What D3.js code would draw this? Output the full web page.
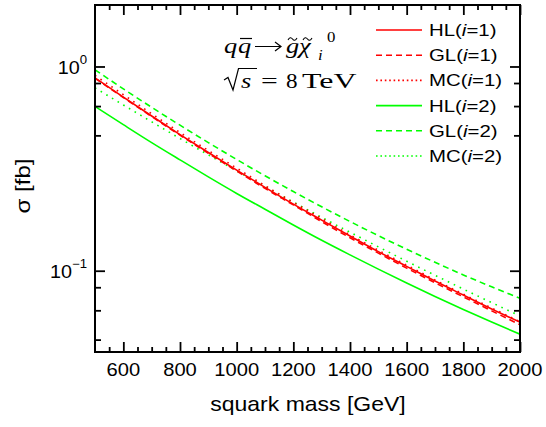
<!DOCTYPE html>
<html><head><meta charset="utf-8">
<script src="https://cdn.jsdelivr.net/npm/d3@7"></script>
<style>body{margin:0;background:#fff}svg{display:block}</style>
</head><body><svg id="c" width="546" height="427"></svg>
<script>
// ---------- data ----------
const masses = [500,600,700,800,900,1000,1100,1200,1300,1400,1500,1600,1700,1800,1900,2000];
const hl1 = [0.880,0.708,0.572,0.464,0.379,0.311,0.256,0.212,0.177,0.148,0.124,0.105,0.089,0.076,0.065,0.056];
const gl1 = [0.875,0.705,0.569,0.461,0.376,0.308,0.253,0.210,0.174,0.145,0.122,0.103,0.0873,0.0745,0.0636,0.0544];
const mc1 = [0.905,0.728,0.587,0.475,0.388,0.318,0.261,0.216,0.180,0.150,0.126,0.1065,0.0902,0.0768,0.0657,0.0563];
const hl2 = [0.637,0.519,0.424,0.349,0.288,0.239,0.200,0.1675,0.141,0.1196,0.1018,0.0870,0.0748,0.0646,0.0561,0.0489];
const gl2 = [0.963,0.777,0.631,0.516,0.424,0.3505,0.2916,0.2441,0.2056,0.1742,0.1485,0.1274,0.1100,0.0954,0.0834,0.0733];
const mc2 = [0.786,0.648,0.536,0.444,0.3695,0.3083,0.2582,0.2169,0.1826,0.1544,0.1309,0.1113,0.0950,0.0813,0.0698,0.0601];

const seriesNames = ["HL","GL","MC","HL","GL","MC"];
const seriesIndex = ["1","1","1","2","2","2"];
const seriesValues = [hl1, gl1, mc1, hl2, gl2, mc2];
const seriesColors = ["#ff0000","#ff0000","#ff0000","#00ff00","#00ff00","#00ff00"];
const seriesStyle = ["solid","dashed","dotted","solid","dashed","dotted"];

const xMajorTicks = [600,800,1000,1200,1400,1600,1800,2000];
const xMinorTicks = [550,650,700,750,850,900,950,1050,1100,1150,1250,1300,1350,1450,1500,1550,1650,1700,1750,1850,1900,1950];
const yMajorTicks = [1, 0.1];
const yMajorBase = ["10","10"];
const yMajorExp = ["0","\u22121"];
const yMinorTicks = [0.83,0.64,0.46,0.083,0.064,0.046];

// ---------- layout ----------
const L = 95, R = 520, T = 5, B = 352;
const svg = d3.select("#c");
const x = d3.scaleLinear().domain([500,2000]).range([L,R]);
const y = d3.scaleLog().domain([0.04,2]).range([B,T]);
const dashes = {solid:null, dashed:"6,4", dotted:"1.6,5"};
const legendDashes = {solid:null, dashed:"6,4", dotted:"1.6,2.8"};
const sans = "'Liberation Sans', Arial, sans-serif";
const serif = "'Liberation Serif', 'Times New Roman', serif";

svg.append("clipPath").attr("id","clip").append("rect")
  .attr("x",L).attr("y",T).attr("width",R-L).attr("height",B-T);

// curves
const line = d3.line().x(d=>x(d[0])).y(d=>y(d[1])).curve(d3.curveMonotoneX);
const plot = svg.append("g").attr("clip-path","url(#clip)");
[3,4,5,0,1,2].forEach(i=>{
  plot.append("path")
    .datum(masses.map((m,j)=>[m, seriesValues[i][j]]))
    .attr("d", line)
    .attr("fill","none")
    .attr("stroke", seriesColors[i])
    .attr("stroke-width", 1.6)
    .attr("stroke-dasharray", dashes[seriesStyle[i]]);
});

// axes (ticks pointing inward)
function tickAxis(axisGen, transform, values, size){
  const g = svg.append("g").attr("transform",transform)
    .call(axisGen.tickValues(values).tickSize(size).tickFormat(""));
  g.select(".domain").remove();
  g.selectAll("line").attr("stroke","#000").attr("stroke-width",1.8);
  return g;
}
tickAxis(d3.axisBottom(x), `translate(0,${B})`, xMajorTicks, -10);
tickAxis(d3.axisBottom(x), `translate(0,${B})`, xMinorTicks, -5);
tickAxis(d3.axisTop(x), `translate(0,${T})`, xMajorTicks, -10);
tickAxis(d3.axisTop(x), `translate(0,${T})`, xMinorTicks, -5);
tickAxis(d3.axisLeft(y), `translate(${L},0)`, yMajorTicks, -10);
tickAxis(d3.axisLeft(y), `translate(${L},0)`, yMinorTicks, -6);
tickAxis(d3.axisRight(y), `translate(${R},0)`, yMajorTicks, -10);
tickAxis(d3.axisRight(y), `translate(${R},0)`, yMinorTicks, -6);

// frame
svg.append("rect").attr("x",L).attr("y",T).attr("width",R-L).attr("height",B-T)
  .attr("fill","none").attr("stroke","#000").attr("stroke-width",2);

// x tick labels
svg.append("g").selectAll("text").data(xMajorTicks).join("text")
  .attr("transform", d=>`translate(${x(d)},376) scale(1.12,1)`)
  .attr("text-anchor","middle")
  .attr("font-family",sans).attr("font-size",18).attr("fill","#000")
  .text(d=>d);

// y tick labels
yMajorTicks.forEach((v,i)=>{
  const t = svg.append("text")
    .attr("transform",`translate(87,${y(v)+7.5}) scale(1.1,1)`)
    .attr("text-anchor","end")
    .attr("font-family",sans).attr("font-size",18).attr("fill","#000");
  t.append("tspan").text(yMajorBase[i]);
  t.append("tspan").attr("font-size",12).attr("dy",-10).text(yMajorExp[i]);
});

// axis titles
svg.append("text")
  .attr("transform","translate(308,411) scale(1.15,1)")
  .attr("text-anchor","middle")
  .attr("font-family",sans).attr("font-size",20).attr("fill","#000")
  .text("squark mass [GeV]");
svg.append("text")
  .attr("transform","translate(30,186) rotate(-90) scale(1.2,1)")
  .attr("text-anchor","middle")
  .attr("font-family",sans).attr("font-size",20).attr("fill","#000")
  .text("\u03c3 [fb]");

// legend
const legY0 = 30, legDy = 25.2;
seriesNames.forEach((n,i)=>{
  const yy = legY0 + i*legDy;
  svg.append("line").attr("x1",376).attr("x2",422).attr("y1",yy).attr("y2",yy)
    .attr("stroke",seriesColors[i]).attr("stroke-width",1.6)
    .attr("stroke-dasharray",legendDashes[seriesStyle[i]]);
  const t = svg.append("text")
    .attr("transform",`translate(429,${yy+6}) scale(1.2,1)`)
    .attr("font-family",sans).attr("font-size",17).attr("fill","#000");
  t.append("tspan").text(n+"(");
  t.append("tspan").attr("font-style","italic").text("i");
  t.append("tspan").text("="+seriesIndex[i]+")");
});

// annotation: q qbar -> g~ chi~_i^0
const ann = svg.append("g").attr("fill","#000").attr("font-family",serif);
function st(txt, xx, yy, size, italic, sx){
  return ann.append("text").attr("transform",`translate(${xx},${yy}) scale(${sx||1.2},1)`)
    .attr("font-size",size).attr("font-style",italic?"italic":"normal").text(txt);
}
function tilde(x0, y0, w){
  ann.append("path")
    .attr("d",`M${x0},${y0+1}Q${x0+w*0.25},${y0-3} ${x0+w*0.5},${y0}T${x0+w},${y0-1}`)
    .attr("fill","none").attr("stroke","#000").attr("stroke-width",1.1);
}
st("q",224,53,22,true);
st("q",238,53,22,true);
ann.append("line").attr("x1",240).attr("x2",252).attr("y1",38.5).attr("y2",38.5).attr("stroke","#000").attr("stroke-width",1.2);
ann.append("path").attr("d","M255,46.5H281M275,42L281,46.5L275,51").attr("fill","none").attr("stroke","#000").attr("stroke-width",1.2);
st("g",286,53,22,true);
tilde(288,39,9);
st("\u03c7",299,53,22,true);
tilde(303,39,9);
st("i",318,60,14,true);
st("0",327,42,14,false);
// sqrt(s) = 8 TeV
ann.append("path").attr("d","M224,80L228,77.5L233,90L238.5,68.5H257").attr("fill","none").attr("stroke","#000").attr("stroke-width",1.2);
st("s",241,88,22,true);
st("=",261,88,22,false,1.35);
st("8",286,88,22,false,1.05);
st("TeV",302,88,22,false,1.45);
</script></body></html>
